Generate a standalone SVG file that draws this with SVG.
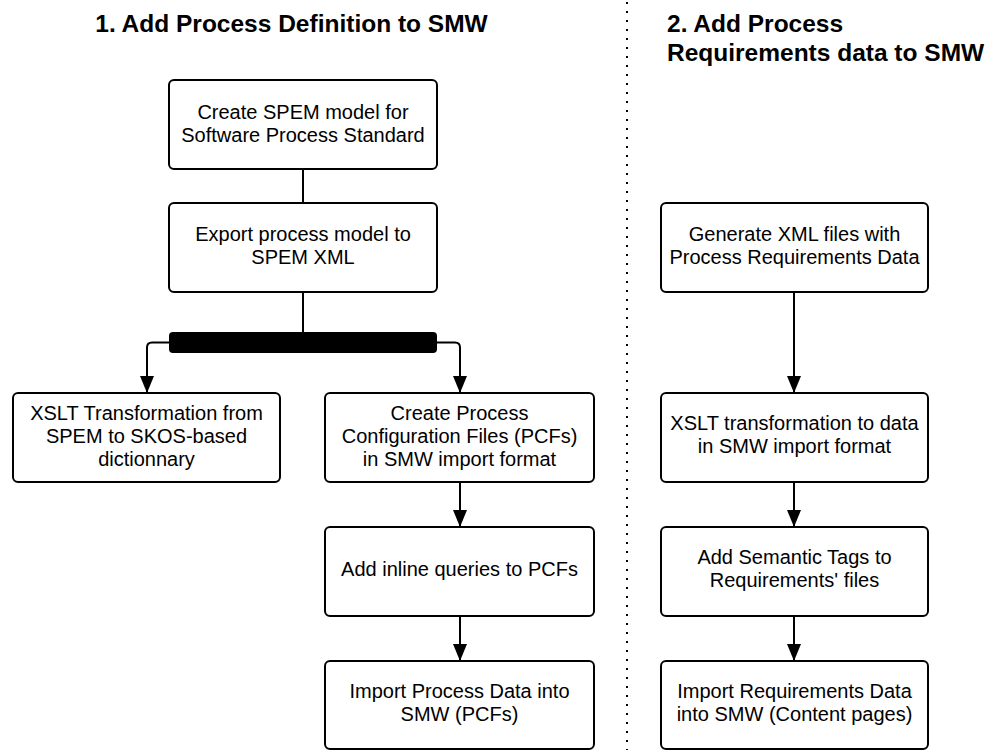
<svg xmlns="http://www.w3.org/2000/svg" width="1001" height="750" viewBox="0 0 1001 750">
<style>
.box{fill:#fff;stroke:#000;stroke-width:2}
.t{font-family:"Liberation Sans",Arial,sans-serif;font-size:20px;fill:#000;text-anchor:middle}
.h{font-family:"Liberation Sans",Arial,sans-serif;font-size:24.5px;font-weight:bold;fill:#000}
.c{fill:none;stroke:#000;stroke-width:2}
</style>
<defs>
<marker id="ah" viewBox="0 0 17 14" markerWidth="17" markerHeight="14" refX="17" refY="7" orient="auto" markerUnits="userSpaceOnUse">
<path d="M0,0 L17,7 L0,14 z" fill="#000"/>
</marker>
</defs>
<rect width="1001" height="750" fill="#fff"/>
<g id="titles">
<text class="h" x="291.5" y="32" text-anchor="middle">1. Add Process Definition to SMW</text>
<text class="h" x="667" y="32">2. Add Process</text>
<text class="h" x="667" y="61">Requirements data to SMW</text>
</g>
<line id="separator" x1="627" y1="2" x2="627" y2="750" stroke="#000" stroke-width="2" stroke-dasharray="2 7"/>
<g id="connectors">
<line class="c" x1="303" y1="169" x2="303" y2="203"/>
<line class="c" x1="303" y1="292" x2="303" y2="332"/>
<path class="c" d="M169,342.5 H152 Q147,342.5 147,347.5 V393" marker-end="url(#ah)"/>
<path class="c" d="M437,342.5 H455 Q460,342.5 460,347.5 V393" marker-end="url(#ah)"/>
<line class="c" x1="460" y1="482" x2="460" y2="527" marker-end="url(#ah)"/>
<line class="c" x1="460" y1="616" x2="460" y2="661" marker-end="url(#ah)"/>
<line class="c" x1="794" y1="292" x2="794" y2="393" marker-end="url(#ah)"/>
<line class="c" x1="794" y1="482" x2="794" y2="527" marker-end="url(#ah)"/>
<line class="c" x1="794" y1="616" x2="794" y2="661" marker-end="url(#ah)"/>
</g>
<g id="fork"><rect x="169" y="332" width="268" height="21" rx="4" fill="#000"/></g>
<g id="n1"><rect class="box" x="169" y="80" width="268" height="89" rx="5"/>
<text class="t" x="303" y="119">Create SPEM model for</text>
<text class="t" x="303" y="142">Software Process Standard</text></g>
<g id="n2"><rect class="box" x="169" y="203" width="268" height="89" rx="5"/>
<text class="t" x="303" y="241">Export process model to</text>
<text class="t" x="303" y="264">SPEM XML</text></g>
<g id="n3"><rect class="box" x="13" y="393" width="267" height="89" rx="5"/>
<text class="t" x="146.5" y="420">XSLT Transformation from</text>
<text class="t" x="146.5" y="443">SPEM to SKOS-based</text>
<text class="t" x="146.5" y="466">dictionnary</text></g>
<g id="n4"><rect class="box" x="325" y="393" width="269" height="89" rx="5"/>
<text class="t" x="459.5" y="420">Create Process</text>
<text class="t" x="459.5" y="443">Configuration Files (PCFs)</text>
<text class="t" x="459.5" y="466">in SMW import format</text></g>
<g id="n5"><rect class="box" x="325" y="527" width="269" height="89" rx="5"/>
<text class="t" x="459.5" y="576">Add inline queries to PCFs</text></g>
<g id="n6"><rect class="box" x="325" y="661" width="269" height="88" rx="5"/>
<text class="t" x="459.5" y="698">Import Process Data into</text>
<text class="t" x="459.5" y="721">SMW (PCFs)</text></g>
<g id="n7"><rect class="box" x="661" y="203" width="267" height="89" rx="5"/>
<text class="t" x="794.5" y="241">Generate XML files with</text>
<text class="t" x="794.5" y="264">Process Requirements Data</text></g>
<g id="n8"><rect class="box" x="661" y="393" width="267" height="89" rx="5"/>
<text class="t" x="794.5" y="430">XSLT transformation to data</text>
<text class="t" x="794.5" y="453">in SMW import format</text></g>
<g id="n9"><rect class="box" x="661" y="527" width="267" height="89" rx="5"/>
<text class="t" x="794.5" y="564">Add Semantic Tags to</text>
<text class="t" x="794.5" y="587">Requirements' files</text></g>
<g id="n10"><rect class="box" x="661" y="661" width="267" height="88" rx="5"/>
<text class="t" x="794.5" y="698">Import Requirements Data</text>
<text class="t" x="794.5" y="721">into SMW (Content pages)</text></g>
</svg>
